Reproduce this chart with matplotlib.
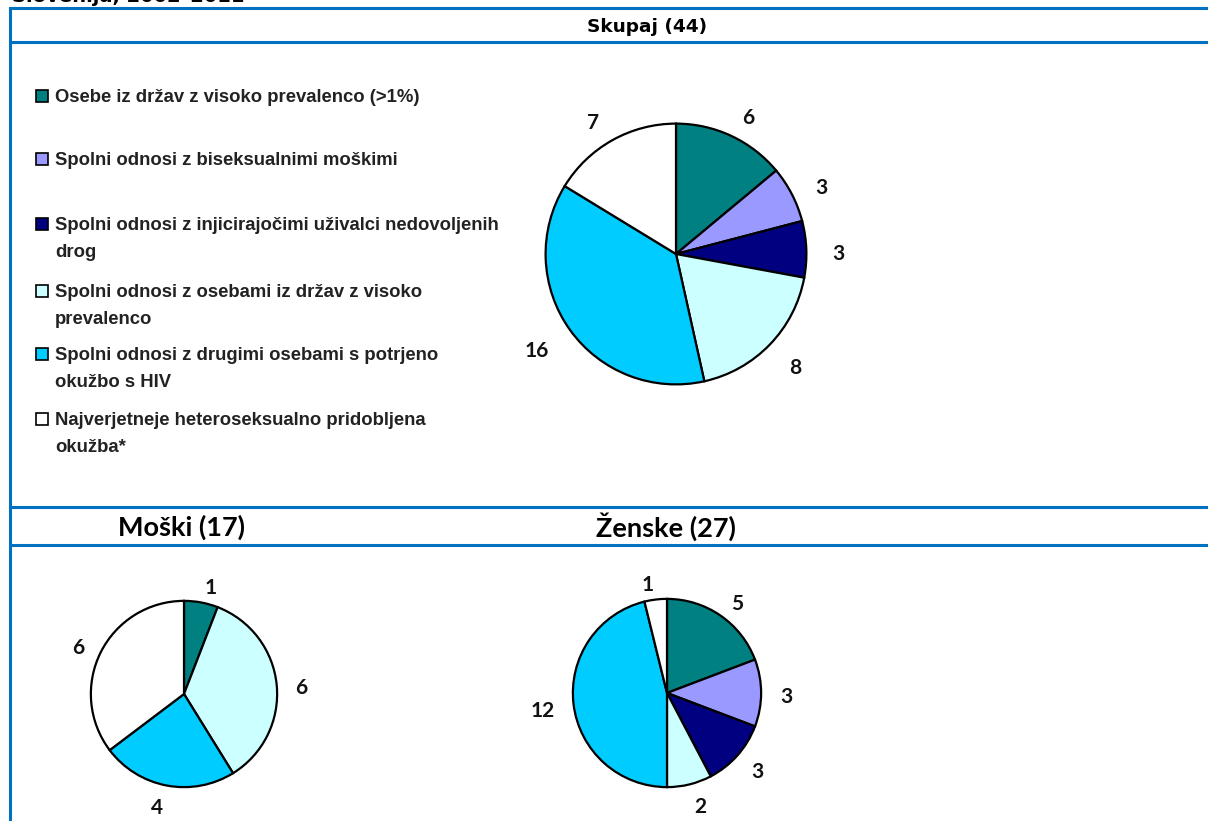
import matplotlib.pyplot as plt
from matplotlib.patches import Rectangle
from matplotlib.lines import Line2D

W, H = 1208, 821

# categories and colours (same order in all pies)
categories = [
    "Osebe iz držav z visoko prevalenco (>1%)",
    "Spolni odnosi z biseksualnimi moškimi",
    "Spolni odnosi z injicirajočimi uživalci nedovoljenih\ndrog",
    "Spolni odnosi z osebami iz držav z visoko\nprevalenco",
    "Spolni odnosi z drugimi osebami s potrjeno\nokužbo s HIV",
    "Najverjetneje heteroseksualno pridobljena\nokužba*",
]
colors = ["#008080", "#9999FF", "#000080", "#CCFFFF", "#00CCFF", "#FFFFFF"]

skupaj = [6, 3, 3, 8, 16, 7]
moski = [1, 0, 0, 6, 4, 6]
zenske = [5, 3, 3, 2, 12, 1]

titles = ["Skupaj (44)", "Moški (17)", "Ženske (27)"]

BLUE = "#0070C0"

fig = plt.figure(figsize=(W / 100, H / 100), dpi=100)


def fx(x):
    return x / W


def fy(y):
    return 1 - y / H


def draw_pie(values, cx, cy, r):
    # leave out empty categories (Moški has none in two of them)
    vals = [v for v in values if v > 0]
    cols = [c for v, c in zip(values, colors) if v > 0]
    ax = fig.add_axes([fx(cx - r), fy(cy + r), 2 * r / W, 2 * r / H])
    wedges, texts = ax.pie(
        vals,
        colors=cols,
        labels=[str(v) for v in vals],
        startangle=90,
        counterclock=False,
        labeldistance=1.2,
        wedgeprops=dict(edgecolor="black", linewidth=1.6),
        textprops=dict(fontsize=15, fontweight="bold", family="Lato", color="#111111"),
    )
    for t in texts:
        x, y = t.get_position()
        t.set_y(y - 0.045)
    ax.set_xlim(-1.02, 1.02)
    ax.set_ylim(-1.02, 1.02)
    ax.set_aspect("auto")
    ax.axis("off")


# table lines
for y in [8, 42, 507, 545]:
    fig.add_artist(Line2D([fx(10), 1], [fy(y), fy(y)], color=BLUE, lw=2.2))
fig.add_artist(Line2D([fx(10), fx(10)], [fy(8), 0], color=BLUE, lw=2.2))

# cut-off title at the very top
fig.text(fx(12), fy(2), "Slovenija, 2002–2011", fontsize=14, fontweight="bold",
         family="DejaVu Sans", va="baseline", ha="left")

# panel titles
fig.text(fx(647), fy(26.5), titles[0], fontsize=13.3, fontweight="bold",
         family="DejaVu Sans", ha="center", va="center")
fig.text(fx(182), fy(527), titles[1], fontsize=19.5, fontweight="bold",
         family="Lato", ha="center", va="center")
fig.text(fx(666), fy(527), titles[2], fontsize=19.5, fontweight="bold",
         family="Lato", ha="center", va="center")

# legend
leg_y = [96, 159, 224, 291, 354, 419]
for lab, col, y in zip(categories, colors, leg_y):
    fig.add_artist(Rectangle((fx(36), fy(y + 6)), 12 / W, 12 / H,
                             facecolor=col, edgecolor="black", lw=1.2))
    fig.text(fx(55), fy(y - 7), lab, fontsize=13.3, fontweight="bold",
             family="Liberation Sans", ha="left", va="top", linespacing=1.75,
             color="#222222")

draw_pie(skupaj, 676, 254, 133)
draw_pie(moski, 184, 694, 95)
draw_pie(zenske, 667, 693, 96)

fig.savefig("out.png", dpi=100)
